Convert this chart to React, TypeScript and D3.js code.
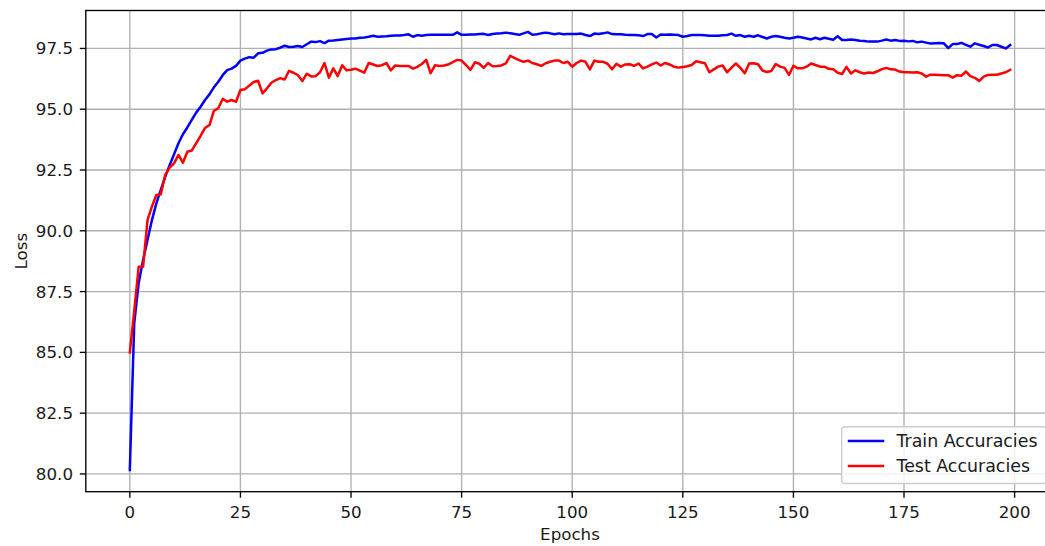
import React from "react";
import * as d3 from "d3";

const trainAcc: number[] = [
  80.16, 86.2, 87.84, 88.8, 89.62, 90.44, 91.13, 91.68, 92.22, 92.7,
  93.15, 93.6, 93.97, 94.25, 94.56, 94.86, 95.1, 95.38, 95.61, 95.9,
  96.13, 96.4, 96.61, 96.67, 96.78, 97.0, 97.08, 97.14, 97.12, 97.3,
  97.32, 97.41, 97.46, 97.47, 97.53, 97.61, 97.56, 97.57, 97.6, 97.56,
  97.67, 97.78, 97.76, 97.8, 97.72, 97.82, 97.83, 97.85, 97.87, 97.89,
  97.91, 97.91, 97.94, 97.95, 97.98, 98.02, 97.98, 97.99, 98.0, 98.02,
  98.03, 98.03, 98.05, 98.08, 97.98, 98.05, 98.02, 98.05, 98.06, 98.06,
  98.06, 98.06, 98.06, 98.06, 98.16, 98.06, 98.06, 98.07, 98.07, 98.09,
  98.1, 98.05, 98.09, 98.11, 98.12, 98.15, 98.12, 98.09, 98.06, 98.12,
  98.18, 98.06, 98.08, 98.12, 98.15, 98.12, 98.08, 98.12, 98.08, 98.09,
  98.09, 98.09, 98.11, 98.05, 98.01, 98.11, 98.09, 98.12, 98.16, 98.09,
  98.08, 98.08, 98.06, 98.05, 98.05, 98.04, 98.01, 98.09, 98.09, 97.95,
  98.07, 98.06, 98.07, 98.06, 98.05, 97.98, 98.01, 98.05, 98.05, 98.05,
  98.04, 98.02, 98.02, 98.02, 98.04, 98.05, 98.11, 98.02, 98.05, 97.98,
  98.02, 97.98, 98.04, 97.97, 97.91, 97.98, 98.01, 97.98, 97.94, 97.91,
  97.94, 97.98, 97.95, 97.91, 97.87, 97.94, 97.88, 97.94, 97.9, 97.86,
  98.0, 97.85, 97.85, 97.87, 97.85, 97.82, 97.81, 97.78, 97.78, 97.78,
  97.82, 97.87, 97.82, 97.85, 97.81, 97.82, 97.79, 97.81, 97.75, 97.78,
  97.74, 97.7, 97.71, 97.72, 97.71, 97.51, 97.68, 97.68, 97.73, 97.65,
  97.57, 97.71, 97.65, 97.6, 97.54, 97.64, 97.64, 97.57, 97.5, 97.64,
];

const testAcc: number[] = [
  85.0, 86.7, 88.52, 88.52, 90.44, 91.0, 91.47, 91.5, 92.3, 92.6,
  92.77, 93.12, 92.8, 93.25, 93.3, 93.6, 93.9, 94.23, 94.35, 94.93,
  95.04, 95.43, 95.31, 95.38, 95.31, 95.79, 95.82, 95.97, 96.12, 96.17,
  95.65, 95.86, 96.09, 96.2, 96.28, 96.22, 96.58, 96.5, 96.4, 96.16,
  96.46, 96.35, 96.36, 96.52, 96.9, 96.3, 96.68, 96.36, 96.81, 96.6,
  96.62, 96.67, 96.59, 96.5, 96.9, 96.84, 96.78, 96.81, 96.9, 96.6,
  96.8, 96.78, 96.78, 96.78, 96.67, 96.74, 96.86, 97.03, 96.48, 96.81,
  96.78, 96.8, 96.84, 96.94, 97.03, 97.0, 96.81, 96.62, 96.93, 96.87,
  96.7, 96.9, 96.77, 96.78, 96.8, 96.89, 97.2, 97.1, 97.02, 96.95,
  97.0, 96.9, 96.85, 96.78, 96.89, 96.95, 97.0, 97.0, 96.9, 96.95,
  96.75, 96.9, 97.0, 96.95, 96.64, 97.0, 96.95, 96.95, 96.87, 96.64,
  96.87, 96.75, 96.84, 96.85, 96.78, 96.88, 96.68, 96.75, 96.84, 96.92,
  96.8, 96.9, 96.84, 96.75, 96.71, 96.74, 96.77, 96.82, 96.97, 96.93,
  96.89, 96.52, 96.64, 96.75, 96.8, 96.52, 96.71, 96.88, 96.7, 96.48,
  96.88, 96.89, 96.85, 96.59, 96.53, 96.57, 96.86, 96.75, 96.7, 96.41,
  96.79, 96.68, 96.68, 96.75, 96.88, 96.82, 96.75, 96.75, 96.66, 96.64,
  96.5, 96.45, 96.74, 96.47, 96.6, 96.52, 96.47, 96.51, 96.49, 96.56,
  96.65, 96.7, 96.64, 96.63, 96.55, 96.52, 96.52, 96.51, 96.52, 96.47,
  96.34, 96.42, 96.42, 96.41, 96.4, 96.4, 96.3, 96.4, 96.38, 96.55,
  96.36, 96.29, 96.16, 96.34, 96.41, 96.42, 96.42, 96.47, 96.52, 96.62,
];

const xTicks: number[] = [0, 25, 50, 75, 100, 125, 150, 175, 200];
const yTicks: number[] = [80, 82.5, 85, 87.5, 90, 92.5, 95, 97.5];
const seriesNames: string[] = ["Train Accuracies", "Test Accuracies"];
const seriesColors: string[] = ["#0000ff", "#ff0000"];
const xLabel = "Epochs";
const yLabel = "Loss";

const W = 1045;
const H = 546;
const L = 85.8, T = 10.5, R = 1054.2, B = 491.7;
const FONT = "'DejaVu Sans', sans-serif";
const FS = 16.7;
const LFS = 17.4;
const TEXT = "#1a1a1a";

export default function App() {
  const x = d3.scaleLinear().domain([-9.95, 208.95]).range([L, R]);
  const y = d3.scaleLinear().domain([79.27, 99.06]).range([B, T]);
  const line = d3
    .line<number>()
    .x((_, i) => x(i))
    .y((d) => y(d));
  const series = [trainAcc, testAcc];

  return (
    <svg
      width={W}
      height={H}
      style={{ position: "absolute", left: 0, top: 0, background: "#fff" }}
      fontFamily={FONT}
    >
      <rect x={0} y={0} width={W} height={H} fill="#fff" />
      <defs>
        <clipPath id="plotClip">
          <rect x={L} y={T} width={R - L} height={B - T} />
        </clipPath>
      </defs>
      {xTicks.map((t) => (
        <line key={"gx" + t} x1={x(t)} x2={x(t)} y1={T} y2={B} stroke="#b0b0b0" strokeWidth={1.35} />
      ))}
      {yTicks.map((t) => (
        <line key={"gy" + t} x1={L} x2={R} y1={y(t)} y2={y(t)} stroke="#b0b0b0" strokeWidth={1.35} />
      ))}
      <g clipPath="url(#plotClip)">
        {series.map((s, i) => (
          <path
            key={"s" + i}
            d={line(s) || ""}
            fill="none"
            stroke={seriesColors[i]}
            strokeWidth={2.5}
            strokeLinejoin="round"
            strokeLinecap="square"
          />
        ))}
      </g>
      <rect x={L} y={T} width={R - L} height={B - T} fill="none" stroke="#000" strokeWidth={1.35} />
      {xTicks.map((t) => (
        <g key={"xt" + t}>
          <line x1={x(t)} x2={x(t)} y1={B} y2={B + 6} stroke="#000" strokeWidth={1.35} />
          <text x={x(t)} y={517.5} textAnchor="middle" fontSize={FS} fill={TEXT}>
            {String(t)}
          </text>
        </g>
      ))}
      {yTicks.map((t) => (
        <g key={"yt" + t}>
          <line x1={L - 6} x2={L} y1={y(t)} y2={y(t)} stroke="#000" strokeWidth={1.35} />
          <text x={73} y={y(t)} textAnchor="end" dominantBaseline="central" fontSize={FS} fill={TEXT}>
            {t.toFixed(1)}
          </text>
        </g>
      ))}
      <text x={(L + R) / 2} y={540} textAnchor="middle" fontSize={FS} fill={TEXT}>
        {xLabel}
      </text>
      <text
        transform={`translate(26.5, ${(T + B) / 2}) rotate(-90)`}
        textAnchor="middle"
        fontSize={FS}
        fill={TEXT}
      >
        {yLabel}
      </text>
      <g>
        <rect
          x={841.7}
          y={426.7}
          width={R - 8.2 - 841.7}
          height={B - 8.2 - 426.7}
          rx={3.3}
          fill="#fff"
          fillOpacity={0.8}
          stroke="#cccccc"
          strokeWidth={1.35}
        />
        {seriesNames.map((n, i) => (
          <g key={"lg" + i}>
            <line
              x1={849}
              x2={883}
              y1={441 + i * 25}
              y2={441 + i * 25}
              stroke={seriesColors[i]}
              strokeWidth={2.5}
              strokeLinecap="square"
            />
            <text x={896.5} y={441 + i * 25} dominantBaseline="central" fontSize={LFS} fill={TEXT}>
              {n}
            </text>
          </g>
        ))}
      </g>
    </svg>
  );
}
